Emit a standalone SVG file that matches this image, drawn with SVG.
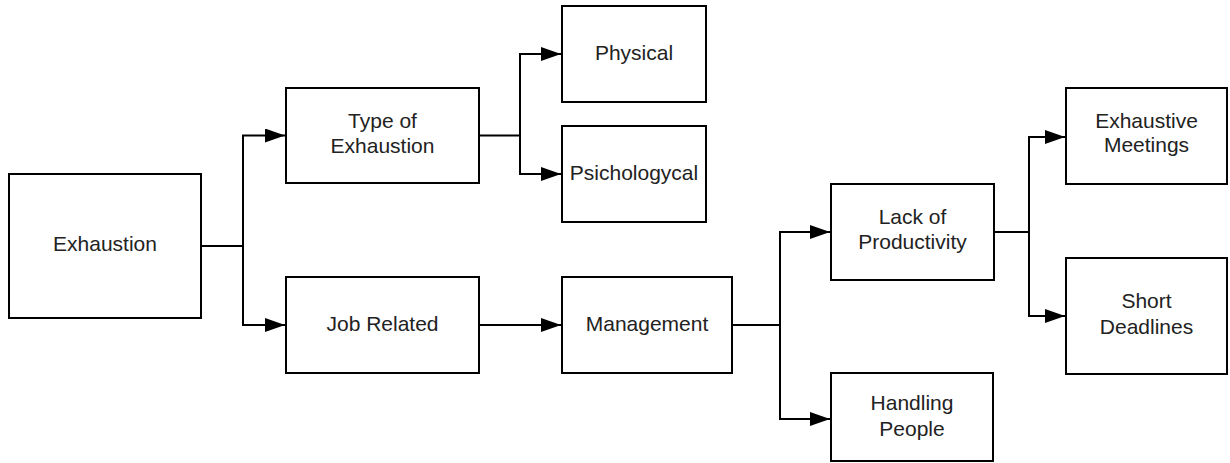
<svg xmlns="http://www.w3.org/2000/svg" width="1230" height="463" viewBox="0 0 1230 463">
<style>
.box{fill:#fff;stroke:#000;stroke-width:2}
.lbl{font-family:"Liberation Sans",Arial,sans-serif;font-size:21px;fill:#222;text-anchor:middle}
.con{fill:none;stroke:#000;stroke-width:2}
</style>
<defs>
<marker id="arr" viewBox="0 0 20 14" refX="20" refY="7" markerWidth="20" markerHeight="14" markerUnits="userSpaceOnUse" orient="auto">
<path d="M0 0 L20 7 L0 14 Z" fill="#000"/>
</marker>
</defs>
<rect width="1230" height="463" fill="#fff"/>
<g id="connectors">
<path class="con" d="M201 246 H243 V135.5 H285" marker-end="url(#arr)"/>
<path class="con" d="M243 246 V325 H285" marker-end="url(#arr)"/>
<path class="con" d="M479 135.5 H520 V54 H561" marker-end="url(#arr)"/>
<path class="con" d="M520 135.5 V174 H561" marker-end="url(#arr)"/>
<path class="con" d="M479 325 H561" marker-end="url(#arr)"/>
<path class="con" d="M732 325 H780 V232 H830" marker-end="url(#arr)"/>
<path class="con" d="M780 325 V419 H830" marker-end="url(#arr)"/>
<path class="con" d="M994 232 H1029 V137 H1065" marker-end="url(#arr)"/>
<path class="con" d="M1029 232 V316 H1065" marker-end="url(#arr)"/>
</g>
<g id="exhaustion"><rect class="box" x="9" y="174" width="192" height="144"/><text class="lbl" x="105" y="251">Exhaustion</text></g>
<g id="type-of-exhaustion"><rect class="box" x="286" y="88" width="193" height="95"/><text class="lbl" x="382.5" y="128">Type of</text><text class="lbl" x="382.5" y="153">Exhaustion</text></g>
<g id="physical"><rect class="box" x="562" y="6" width="144" height="96"/><text class="lbl" x="634" y="59.5">Physical</text></g>
<g id="psichologycal"><rect class="box" x="562" y="126" width="144" height="96"/><text class="lbl" x="634" y="179.5">Psichologycal</text></g>
<g id="job-related"><rect class="box" x="286" y="277" width="193" height="96"/><text class="lbl" x="382.5" y="331">Job Related</text></g>
<g id="management"><rect class="box" x="562" y="277" width="170" height="96"/><text class="lbl" x="647" y="331">Management</text></g>
<g id="lack-of-productivity"><rect class="box" x="831" y="184" width="163" height="96"/><text class="lbl" x="912.5" y="223.5">Lack of</text><text class="lbl" x="912.5" y="249">Productivity</text></g>
<g id="handling-people"><rect class="box" x="831" y="373" width="162" height="88"/><text class="lbl" x="912" y="409.5">Handling</text><text class="lbl" x="912" y="435.5">People</text></g>
<g id="exhaustive-meetings"><rect class="box" x="1066" y="88" width="161" height="96"/><text class="lbl" x="1146.5" y="127.5">Exhaustive</text><text class="lbl" x="1146.5" y="152">Meetings</text></g>
<g id="short-deadlines"><rect class="box" x="1066" y="258" width="161" height="116"/><text class="lbl" x="1146.5" y="308">Short</text><text class="lbl" x="1146.5" y="333.5">Deadlines</text></g>
</svg>
